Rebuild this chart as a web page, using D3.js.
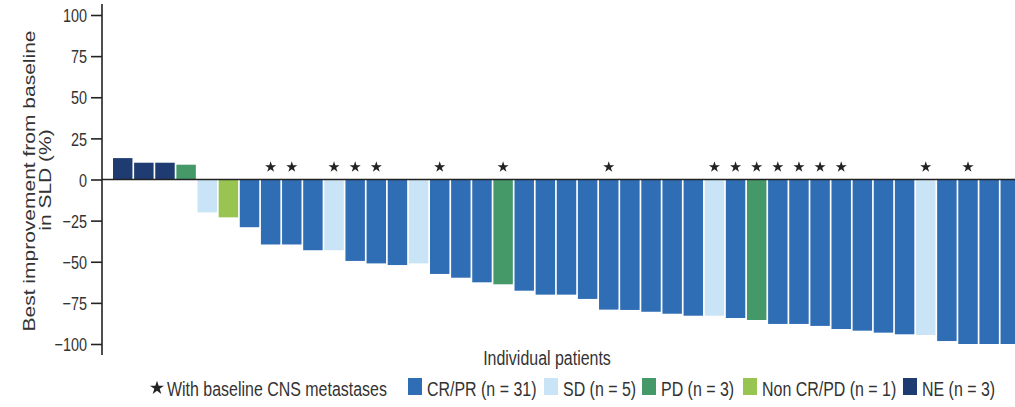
<!DOCTYPE html>
<html>
<head>
<meta charset="utf-8">
<script src="https://cdn.jsdelivr.net/npm/d3@7"></script>
<style>
  body { margin: 0; background: #fff; }
  svg { display: block; font-family: "Liberation Sans", Arial, sans-serif; }
</style>
</head>
<body>
<div id="chart"></div>
<script>

// best change from baseline in SLD (%), one value per patient, sorted
var values = [13, 10.2, 10.2, 9, -20, -23, -29, -39.5, -39.5, -43, -43, -49.5, -51, -52, -51,
	-57.4, -59.7, -62.5, -63.7, -67.6, -70, -70, -72.6, -79.1, -79.3, -80.4, -81.6, -82.8, -82.8,
	-84.2, -85.4, -87.8, -87.8, -89, -90.9, -91.9, -93.1, -94.1, -94.5, -98.2, -100, -100, -100];

// best overall response per patient
var response = ["NE", "NE", "NE", "PD", "SD", "NonCRPD", "CRPR", "CRPR", "CRPR", "CRPR", "SD",
	"CRPR", "CRPR", "CRPR", "SD", "CRPR", "CRPR", "CRPR", "PD", "CRPR", "CRPR", "CRPR", "CRPR",
	"CRPR", "CRPR", "CRPR", "CRPR", "CRPR", "SD", "CRPR", "PD", "CRPR", "CRPR", "CRPR", "CRPR",
	"CRPR", "CRPR", "CRPR", "SD", "CRPR", "CRPR", "CRPR", "CRPR"];

// patients (index) with baseline CNS metastases
var cnsPatients = [7, 8, 10, 11, 12, 15, 18, 23, 28, 29, 30, 31, 32, 33, 34, 38, 40];

var groups = ["CRPR", "SD", "PD", "NonCRPD", "NE"];
var groupLabels = ["CR/PR (n = 31)", "SD (n = 5)", "PD (n = 3)", "Non CR/PD (n = 1)", "NE (n = 3)"];
var yTicks = [100, 75, 50, 25, 0, -25, -50, -75, -100];

var colors = { CRPR: "#2f6db4", SD: "#c9e4f6", PD: "#459868", NonCRPD: "#98c452", NE: "#1e3b72" };

var W = 1015, H = 407;
var sx = 0.76; // text looks horizontally squeezed in the source

var svg = d3.select("#chart").append("svg")
	.attr("width", W).attr("height", H);

// scales
var x = d3.scaleBand()
	.domain(d3.range(values.length))
	.range([113, 1020])
	.paddingInner(0.08)
	.paddingOuter(0);

var y = d3.scaleLinear()
	.domain([-100, 100])
	.range([344, 15]);

// bars
svg.append("g").selectAll("rect")
	.data(values).enter()
	.append("rect")
		.attr("x", function(d, i){ return x(i); })
		.attr("width", x.bandwidth())
		.attr("y", function(d){ return y(Math.max(0, d)); })
		.attr("height", function(d){ return Math.abs(y(d) - y(0)); })
		.attr("fill", function(d, i){ return colors[response[i]]; });

// stars for CNS metastases
var star = d3.symbol().type(d3.symbolStar).size(38);
svg.append("g").selectAll("path")
	.data(cnsPatients).enter()
	.append("path")
		.attr("d", star)
		.attr("fill", "#222")
		.attr("transform", function(i){ return "translate(" + (x(i) + x.bandwidth() / 2) + ",167)"; });

// zero line
svg.append("line")
	.attr("x1", 102).attr("x2", W)
	.attr("y1", y(0)).attr("y2", y(0))
	.attr("stroke", "#222").attr("stroke-width", 1.6);

// y axis
var yAxis = d3.axisLeft(y)
	.tickValues(yTicks)
	.tickSizeInner(11)
	.tickSizeOuter(0)
	.tickPadding(4)
	.tickFormat(function(d){ return d < 0 ? "\u2212" + Math.abs(d) : d; });

var gy = svg.append("g")
	.attr("transform", "translate(102,0)")
	.call(yAxis);
gy.select(".domain").remove();
gy.selectAll("line").attr("stroke", "#222").attr("stroke-width", 1.6);
gy.selectAll("text")
	.attr("fill", "#333")
	.style("font-size", "19px")
	.attr("x", null).attr("dy", "0.35em")
	.attr("transform", "translate(-15,0) scale(" + sx + ",1)");

svg.append("line")
	.attr("x1", 102).attr("x2", 102)
	.attr("y1", 4).attr("y2", 355)
	.attr("stroke", "#222").attr("stroke-width", 1.6);

// y label (two lines)
svg.append("text")
	.attr("transform", "translate(35,181) scale(" + sx + ",1) rotate(-90)")
	.attr("text-anchor", "middle")
	.attr("fill", "#333")
	.style("font-size", "21px")
	.text("Best improvement from baseline");
svg.append("text")
	.attr("transform", "translate(51,180) scale(" + sx + ",1) rotate(-90)")
	.attr("text-anchor", "middle")
	.attr("fill", "#333")
	.style("font-size", "21px")
	.text("in SLD (%)");

// x label
svg.append("text")
	.attr("transform", "translate(547,365) scale(" + sx + ",1)")
	.attr("text-anchor", "middle")
	.attr("fill", "#333")
	.style("font-size", "21px")
	.text("Individual patients");

// legend
var legend = svg.append("g");
legend.append("path")
	.attr("d", d3.symbol().type(d3.symbolStar).size(60))
	.attr("fill", "#222")
	.attr("transform", "translate(157,388)");
legend.append("text")
	.attr("transform", "translate(167,396) scale(" + sx + ",1)")
	.attr("fill", "#333")
	.style("font-size", "21px")
	.text("With baseline CNS metastases");

var legendX = [408, 544, 642, 743, 903];
groups.forEach(function(g, i){
	legend.append("rect")
		.attr("x", legendX[i]).attr("y", 378)
		.attr("width", 14).attr("height", 17)
		.attr("fill", colors[g]);
	legend.append("text")
		.attr("transform", "translate(" + (legendX[i] + 19) + ",396) scale(" + sx + ",1)")
		.attr("fill", "#333")
		.style("font-size", "21px")
		.text(groupLabels[i]);
});

</script>
</body>
</html>
